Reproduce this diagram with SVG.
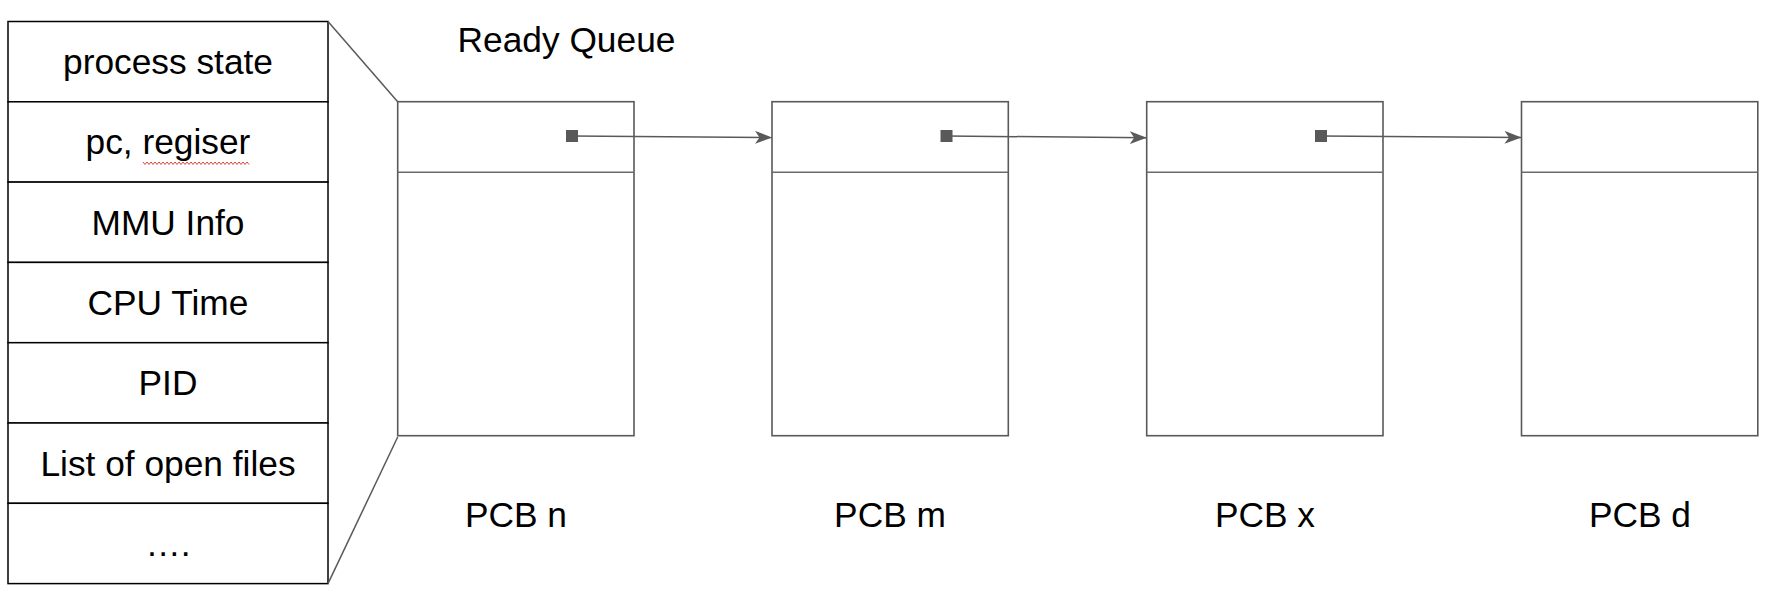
<svg xmlns="http://www.w3.org/2000/svg" width="1782" height="610" viewBox="0 0 1782 610">
<style>
.cell{fill:#fff;stroke:#000;stroke-width:1.5}
.t{font-family:"Liberation Sans",Arial,sans-serif;font-size:35.3px;fill:#000;text-anchor:middle}
.box{fill:#fff;stroke:#595959;stroke-width:1.6}
.div{stroke:#6a6a6a;stroke-width:1.6}
.conn{stroke:#595959;stroke-width:1.5;fill:none}
.sq{fill:#595959}
</style>
<defs>
<marker id="arr" markerUnits="userSpaceOnUse" markerWidth="18" markerHeight="14" refX="17" refY="6.5" orient="auto">
<path d="M0,0 L17,6.5 L0,13 L4.5,6.5 Z" fill="#595959"/>
</marker>
</defs>
<rect width="1782" height="610" fill="#fff"/>
<g id="pcb-table">
<rect class="cell" x="8" y="21.5" width="320" height="80.3"/>
<rect class="cell" x="8" y="101.8" width="320" height="80.3"/>
<rect class="cell" x="8" y="182.1" width="320" height="80.3"/>
<rect class="cell" x="8" y="262.4" width="320" height="80.3"/>
<rect class="cell" x="8" y="342.7" width="320" height="80.3"/>
<rect class="cell" x="8" y="423" width="320" height="80.3"/>
<rect class="cell" x="8" y="503.3" width="320" height="80.3"/>
<text class="t" x="168" y="74">process state</text>
<text class="t" x="168" y="154.3">pc, regiser</text>
<polyline fill="none" stroke="#e0443a" stroke-width="1" points="143,162 145,164.5 147,162 149,164.5 151,162 153,164.5 155,162 157,164.5 159,162 161,164.5 163,162 165,164.5 167,162 169,164.5 171,162 173,164.5 175,162 177,164.5 179,162 181,164.5 183,162 185,164.5 187,162 189,164.5 191,162 193,164.5 195,162 197,164.5 199,162 201,164.5 203,162 205,164.5 207,162 209,164.5 211,162 213,164.5 215,162 217,164.5 219,162 221,164.5 223,162 225,164.5 227,162 229,164.5 231,162 233,164.5 235,162 237,164.5 239,162 241,164.5 243,162 245,164.5 247,162 249,164.5"/>
<text class="t" x="168" y="234.6">MMU Info</text>
<text class="t" x="168" y="314.9">CPU Time</text>
<text class="t" x="168" y="395.2">PID</text>
<text class="t" x="168" y="475.5">List of open files</text>
<text class="t" x="168" y="555.8">….</text>
</g>
<g id="title"><text class="t" x="566.5" y="52">Ready Queue</text></g>
<g id="pcb-n">
<rect class="box" x="397.7" y="101.7" width="236.3" height="334"/>
<line class="div" x1="397.7" y1="172.3" x2="634" y2="172.3"/>
<text class="t" x="516" y="527">PCB n</text>
</g>
<g id="pcb-m">
<rect class="box" x="772" y="101.7" width="236.3" height="334"/>
<line class="div" x1="772" y1="172.3" x2="1008.3" y2="172.3"/>
<text class="t" x="890" y="527">PCB m</text>
</g>
<g id="pcb-x">
<rect class="box" x="1146.7" y="101.7" width="236.3" height="334"/>
<line class="div" x1="1146.7" y1="172.3" x2="1383" y2="172.3"/>
<text class="t" x="1265" y="527">PCB x</text>
</g>
<g id="pcb-d">
<rect class="box" x="1521.5" y="101.7" width="236.3" height="334"/>
<line class="div" x1="1521.5" y1="172.3" x2="1757.8" y2="172.3"/>
<text class="t" x="1640" y="527">PCB d</text>
</g>
<g id="connectors">
<line class="conn" x1="328" y1="21.5" x2="397.7" y2="101.7"/>
<line class="conn" x1="328" y1="583.6" x2="397.7" y2="437"/>
<line class="conn" x1="572" y1="136" x2="772" y2="137.5" marker-end="url(#arr)"/>
<line class="conn" x1="946.5" y1="136" x2="1146.7" y2="137.8" marker-end="url(#arr)"/>
<line class="conn" x1="1321" y1="136" x2="1521.5" y2="137.5" marker-end="url(#arr)"/>
<rect class="sq" x="566" y="130" width="12" height="12"/>
<rect class="sq" x="940.5" y="130" width="12" height="12"/>
<rect class="sq" x="1315" y="130" width="12" height="12"/>
</g>
</svg>
